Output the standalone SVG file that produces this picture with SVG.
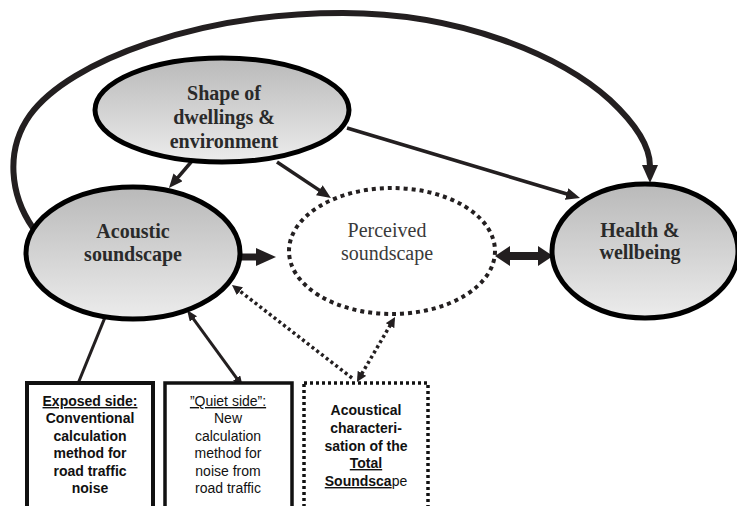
<svg xmlns="http://www.w3.org/2000/svg" width="737" height="506" viewBox="0 0 737 506">
<defs>
<linearGradient id="g" x1="0" y1="0" x2="0" y2="1">
<stop offset="0" stop-color="#b9b9b9"/>
<stop offset="1" stop-color="#ececec"/>
</linearGradient>
<marker id="ah" markerUnits="userSpaceOnUse" markerWidth="14" markerHeight="12" refX="3" refY="6" orient="auto-start-reverse"><path d="M0,0 L14,6 L0,12 z" fill="#231f20"/></marker>
<marker id="ah2" markerUnits="userSpaceOnUse" markerWidth="11" markerHeight="9" refX="2" refY="4.5" orient="auto-start-reverse"><path d="M0,0 L11,4.5 L0,9 z" fill="#231f20"/></marker>
<marker id="sm" markerUnits="userSpaceOnUse" markerWidth="8" markerHeight="7" refX="2" refY="3.5" orient="auto"><path d="M0,0 L8,3.5 L0,7 z" fill="#231f20"/></marker>
<marker id="big" markerUnits="userSpaceOnUse" markerWidth="20" markerHeight="18" refX="2" refY="9" orient="auto"><path d="M0,0 L20,9 L0,18 z" fill="#231f20"/></marker>
<marker id="dbl" markerUnits="userSpaceOnUse" markerWidth="15" markerHeight="20" refX="2" refY="10" orient="auto-start-reverse"><path d="M0,0 L15,10 L0,20 z" fill="#231f20"/></marker>
<marker id="top" markerUnits="userSpaceOnUse" markerWidth="18" markerHeight="16" refX="1" refY="8" orient="auto"><path d="M0,0 L18,8 L0,16 z" fill="#231f20"/></marker>
<marker id="dm" markerUnits="userSpaceOnUse" markerWidth="10" markerHeight="10" refX="1" refY="5" orient="auto-start-reverse"><path d="M0,0 L10,5 L0,10 z" fill="#231f20"/></marker>
</defs>
<style>
.node{fill:url(#g);stroke:#000;stroke-width:5}
.dotted{fill:#fff;stroke:#231f20;stroke-width:4;stroke-dasharray:4 4}
.nt{font-family:"Liberation Serif","Times New Roman",serif;font-size:20px;font-weight:bold;fill:#2a2a2a;text-anchor:middle}
.pt{font-family:"Liberation Serif","Times New Roman",serif;font-size:20px;fill:#3a3a3a;text-anchor:middle}
.c{fill:none;stroke:#231f20}
.bt{font-family:"Liberation Sans",Arial,sans-serif;font-size:14px;fill:#111;text-anchor:middle}
.b{font-weight:bold}
.u{text-decoration:underline}
.box{fill:#fff;stroke:#111}
</style>
<g id="connectors">
<path class="c" stroke-width="6" d="M33,228 C10,195 5,150 30,115 C70,60 200,13 343,13 C460,13 560,55 610,100 C640,128 650,150 650,166" marker-end="url(#top)"/>
<line class="c" stroke-width="3.5" x1="192" y1="161" x2="176.1" y2="179.6" marker-end="url(#ah)"/>
<line class="c" stroke-width="3.5" x1="277" y1="162" x2="321.8" y2="191.9" marker-end="url(#ah)"/>
<line class="c" stroke-width="3.5" x1="347" y1="128" x2="569.5" y2="194.8" marker-end="url(#ah)"/>
<line class="c" stroke-width="7" x1="240" y1="257" x2="258" y2="257" marker-end="url(#big)"/>
<line class="c" stroke-width="8" x1="508" y1="256" x2="540" y2="256" marker-start="url(#dbl)" marker-end="url(#dbl)"/>
<line class="c" stroke-width="3" x1="77" y1="386" x2="105.7" y2="315.6" marker-end="url(#sm)"/>
<line class="c" stroke-width="3" x1="192.3" y1="317.3" x2="237.7" y2="379.7" marker-start="url(#ah2)" marker-end="url(#ah2)"/>
<line class="c" stroke-width="3.5" stroke-dasharray="3 3" x1="390.5" y1="324.8" x2="361.5" y2="374.2" marker-start="url(#dm)" marker-end="url(#dm)"/>
<line class="c" stroke-width="3.5" stroke-dasharray="3 3" x1="352" y1="378" x2="239.1" y2="290.5" marker-end="url(#dm)"/>
</g>
<g id="shape">
<ellipse class="node" cx="222" cy="110" rx="127" ry="52"/>
<text class="nt" x="224" y="100">Shape of</text>
<text class="nt" x="224" y="124">dwellings &amp;</text>
<text class="nt" x="224" y="148">environment</text>
</g>
<g id="acoustic">
<ellipse class="node" cx="133" cy="253" rx="107" ry="66"/>
<text class="nt" x="133" y="238">Acoustic</text>
<text class="nt" x="133" y="261">soundscape</text>
</g>
<g id="perceived">
<ellipse class="dotted" cx="392" cy="251" rx="103" ry="63"/>
<text class="pt" x="387" y="237">Perceived</text>
<text class="pt" x="387" y="260">soundscape</text>
</g>
<g id="health">
<ellipse class="node" cx="645" cy="251" rx="93" ry="67"/>
<text class="nt" x="640" y="237">Health &amp;</text>
<text class="nt" x="640" y="259">wellbeing</text>
</g>
<g id="exposed">
<rect class="box" x="27" y="383" width="126" height="130" stroke-width="4"/>
<text class="bt b" x="90"><tspan x="90" y="406" class="u">Exposed side:</tspan><tspan x="90" y="423">Conventional</tspan><tspan x="90" y="441">calculation</tspan><tspan x="90" y="458">method for</tspan><tspan x="90" y="476">road traffic</tspan><tspan x="90" y="493">noise</tspan></text>
</g>
<g id="quiet">
<rect class="box" x="165" y="383" width="127" height="130" stroke-width="3.5"/>
<text class="bt" x="228"><tspan x="228" y="406" class="u">”Quiet side”:</tspan><tspan x="228" y="423">New</tspan><tspan x="228" y="441">calculation</tspan><tspan x="228" y="458">method for</tspan><tspan x="228" y="476">noise from</tspan><tspan x="228" y="493">road traffic</tspan></text>
</g>
<g id="acoustical">
<rect class="box" x="304" y="383" width="124" height="130" stroke-width="3.5" stroke-dasharray="3 3"/>
<text class="bt b" x="366"><tspan x="366" y="415">Acoustical</tspan><tspan x="366" y="433">characteri-</tspan><tspan x="366" y="451">sation of the</tspan><tspan x="366" y="468" class="u">Total</tspan></text>
<text class="bt" x="366" y="486"><tspan class="b u">Soundsca</tspan><tspan>pe</tspan></text>
</g>
</svg>
